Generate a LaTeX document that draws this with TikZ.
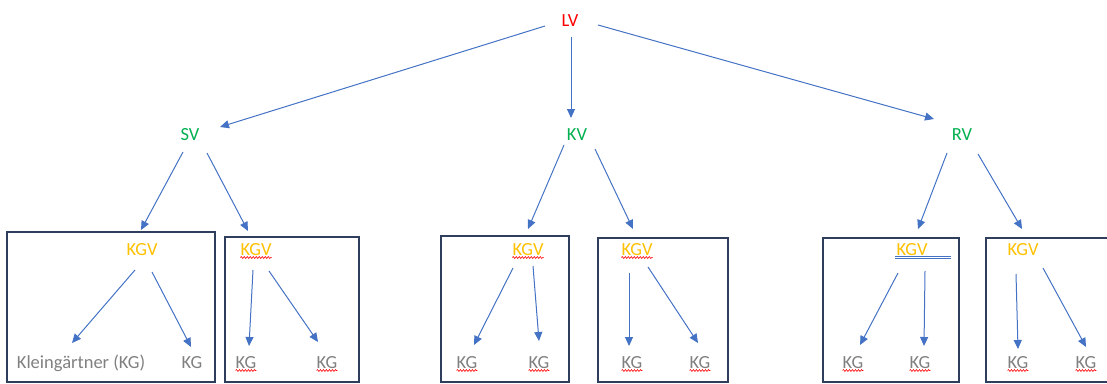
\documentclass[tikz,border=0pt]{standalone}
\usepackage{fontspec}
\setmainfont{Carlito}
\usetikzlibrary{arrows.meta,calc,decorations.pathmorphing}
\definecolor{lvred}{RGB}{255,0,0}
\definecolor{vgreen}{RGB}{0,176,80}
\definecolor{kgvgold}{RGB}{255,192,0}
\definecolor{kggray}{RGB}{128,128,128}
\definecolor{arrblue}{RGB}{68,114,196}
\definecolor{boxblue}{RGB}{47,62,92}
\tikzset{
every node/.style={inner sep=0pt,font=\fontsize{18.5}{22}\selectfont,anchor=base},
lvstyle/.style= {text=lvred},
vstyle/.style= {text=vgreen},
kgvstyle/.style= {text=kgvgold},
kgstyle/.style= {text=kggray},
arr/.style= {-{Triangle[length=9pt,width=8pt]},arrblue,line width=1pt},
frame/.style= {boxblue,line width=1.1pt},
wavy/.style= {red,line width=0.6pt,decorate,decoration={snake,amplitude=0.9pt,segment length=3pt}}
}
\begin{document}
\begin{tikzpicture}[x=1pt,y=-1pt]
\useasboundingbox (0,0) rectangle (1107,383);

% the boxes round each "KGV"
\draw[frame] (7,232) rectangle (215,382);
\draw[frame] (225,237) rectangle (359,382);
\draw[frame] (441,236) rectangle (569,382);
\draw[frame] (598,238) rectangle (728,382);
\draw[frame] (823,238) rectangle (959,382);
\draw[frame] (986,238) rectangle (1112,382);

% the top levels
\node[lvstyle] (lv) at (570,26) {LV};
\node[vstyle] (sv) at (190,140) {SV};
\node[vstyle] (kv) at (577,140) {KV};
\node[vstyle] (rv) at (962,140) {RV};

% the "KGV" nodes
\node[kgvstyle] (kgv1) at (142,255) {KGV};
\node[kgvstyle] (kgv2) at (256,255) {KGV};
\node[kgvstyle] (kgv3) at (528,255) {KGV};
\node[kgvstyle] (kgv4) at (637,255) {KGV};
\node[kgvstyle] (kgv5) at (912,255) {KGV};
\node[kgvstyle] (kgv6) at (1023,255) {KGV};

% the "KG" nodes below
\node[kgstyle] (kg11) at (81,368) {Kleingärtner (KG)};
\node[kgstyle] (kg12) at (192,368) {KG};
\node[kgstyle] (kg21) at (246,368) {KG};
\node[kgstyle] (kg22) at (327,368) {KG};
\node[kgstyle] (kg31) at (467,368) {KG};
\node[kgstyle] (kg32) at (539,368) {KG};
\node[kgstyle] (kg41) at (632,368) {KG};
\node[kgstyle] (kg42) at (700,368) {KG};
\node[kgstyle] (kg51) at (853,368) {KG};
\node[kgstyle] (kg52) at (920,368) {KG};
\node[kgstyle] (kg61) at (1018,368) {KG};
\node[kgstyle] (kg62) at (1086,368) {KG};

% arrows from each node to its children
\foreach \a/\ax/\ay/\b/\bx/\by in {
  lv/-25/0/sv/30/-13, lv/1/11/kv/-6/-22, lv/28/-1/rv/-28/-21,
  sv/-7/12/kgv1/-1/-25, sv/17/13/kgv2/-8/-24,
  kv/-13/5/kgv3/0/-26, kv/18/9/kgv4/-4/-26,
  rv/-15/13/kgv5/6/-26, rv/16/14/kgv6/-1/-26,
  kgv1/-7/15/kg11/-9/-25, kgv1/10/17/kg12/-1/-21,
  kgv2/-3/15/kg21/3/-22, kgv2/13/16/kg22/-9/-26,
  kgv3/-15/13/kg31/7/-23, kgv3/5/11/kg32/0/-27,
  kgv4/-8/18/kg41/-3/-22, kgv4/11/12/kg42/-2/-25,
  kgv5/-14/18/kg51/7/-23, kgv5/13/16/kg52/4/-22,
  kgv6/-7/19/kg61/0/-19, kgv6/20/13/kg62/0/-21}
  \draw[arr] ($(\a.base)+(\ax,\ay)$) -- ($(\b.base)+(\bx,\by)$);

% red wavy marks under the words
\foreach \n in {kgv2,kgv3,kgv4,kg21,kg22,kg31,kg32,kg41,kg42,kg51,kg52,kg61,kg62}
  \draw[wavy] ($(\n.base west)+(0,2.5)$) -- ($(\n.base east)+(0,2.5)$);

% double blue mark under the fifth "KGV"
\draw[arrblue,line width=0.7pt,double,double distance=1pt] ($(kgv5.base west)+(-1,2.5)$) -- ($(kgv5.base west)+(55,2.5)$);

\end{tikzpicture}
\end{document}
